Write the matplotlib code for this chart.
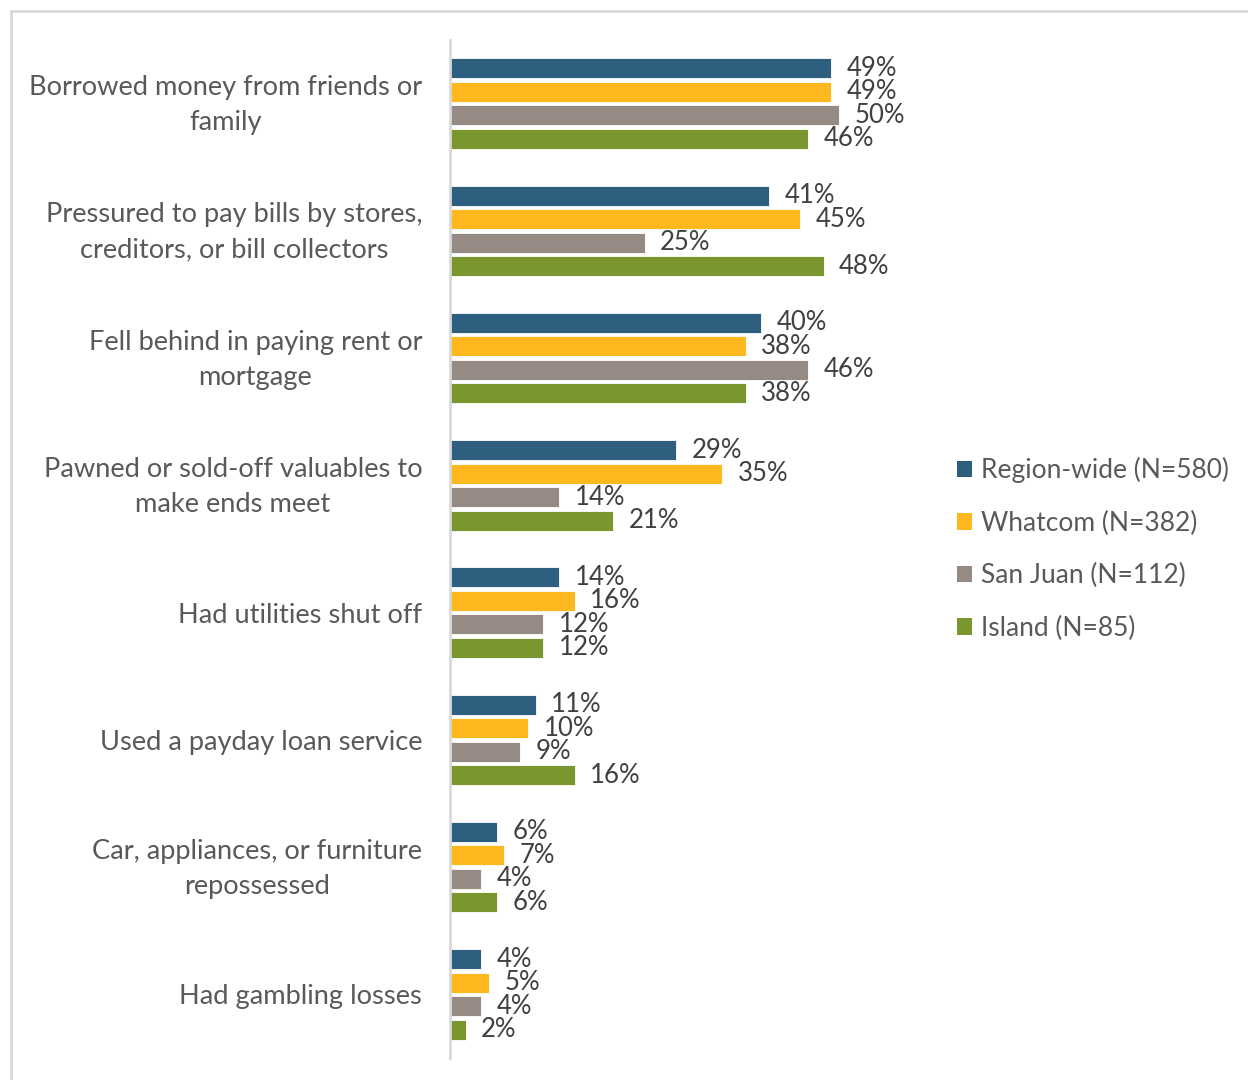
import matplotlib.pyplot as plt
from matplotlib.patches import Patch, Rectangle
from matplotlib.transforms import ScaledTranslation
import numpy as np

plt.rcParams['font.family'] = ['Lato', 'DejaVu Sans']

categories = [
    "Borrowed money from friends or\nfamily",
    "Pressured to pay bills by stores,\ncreditors, or bill collectors",
    "Fell behind in paying rent or\nmortgage",
    "Pawned or sold-off valuables to\nmake ends meet",
    "Had utilities shut off",
    "Used a payday loan service",
    "Car, appliances, or furniture\nrepossessed",
    "Had gambling losses",
]
series_names = ["Region-wide (N=580)", "Whatcom (N=382)", "San Juan (N=112)", "Island (N=85)"]
region_wide = [49, 41, 40, 29, 14, 11, 6, 4]
whatcom = [49, 45, 38, 35, 16, 10, 7, 5]
san_juan = [50, 25, 46, 14, 12, 9, 4, 4]
island = [46, 48, 38, 21, 12, 16, 6, 2]
colors = ["#2E5F7E", "#FDB81E", "#968B84", "#7A972F"]

W, H = 1248, 1080
fig = plt.figure(figsize=(W / 100, H / 100), dpi=100)

# light frame around the chart
fig.patches.append(Rectangle((11 / W, -0.02), 1.1, (H - 11) / H + 0.02, transform=fig.transFigure,
                             fill=False, edgecolor="#D9D9D9", linewidth=2))

ax = fig.add_axes([450 / W, 22 / H, 467 / W, 1018 / H])

n = len(categories)
y = np.arange(n)
step = 0.1845
bar_h = 0.157
all_series = [region_wide, whatcom, san_juan, island]
for i, (vals, col) in enumerate(zip(all_series, colors)):
    pos = y + (i - 1.5) * step
    ax.barh(pos, vals, height=bar_h, color=col, edgecolor="white", linewidth=0.6)
    for p, v in zip(pos, vals):
        ax.text(v + 2.0, p, f"{v}%", va="center", ha="left", fontsize=18.5, color="#404040")

ax.set_xlim(0, 60)
ax.set_ylim(n - 0.5, -0.5)
ax.set_yticks(y)
ax.set_yticklabels(categories, fontsize=19.6, color="#595959", multialignment="center",
                   linespacing=1.5)
ax.tick_params(axis="y", length=0, pad=20)
# two-line labels sit a bit low with center_baseline, nudge them up
for lab in ax.get_yticklabels():
    if "\n" in lab.get_text():
        lab.set_transform(lab.get_transform() + ScaledTranslation(0, 6 / 100, fig.dpi_scale_trans))
ax.set_xticks([])
for s in ["top", "right", "bottom"]:
    ax.spines[s].set_visible(False)
ax.spines["left"].set_color("#D9D9D9")
ax.spines["left"].set_linewidth(2)

handles = [Patch(facecolor=c, edgecolor="none") for c in colors]
fig.legend(handles, series_names, loc="center left", bbox_to_anchor=(957 / W, 1 - 549 / H),
           frameon=False, fontsize=19, labelcolor="#595959", handlelength=0.57, handleheight=0.57,
           handletextpad=0.34, labelspacing=1.04, borderaxespad=0, borderpad=0)

fig.savefig("out.png", dpi=100)
